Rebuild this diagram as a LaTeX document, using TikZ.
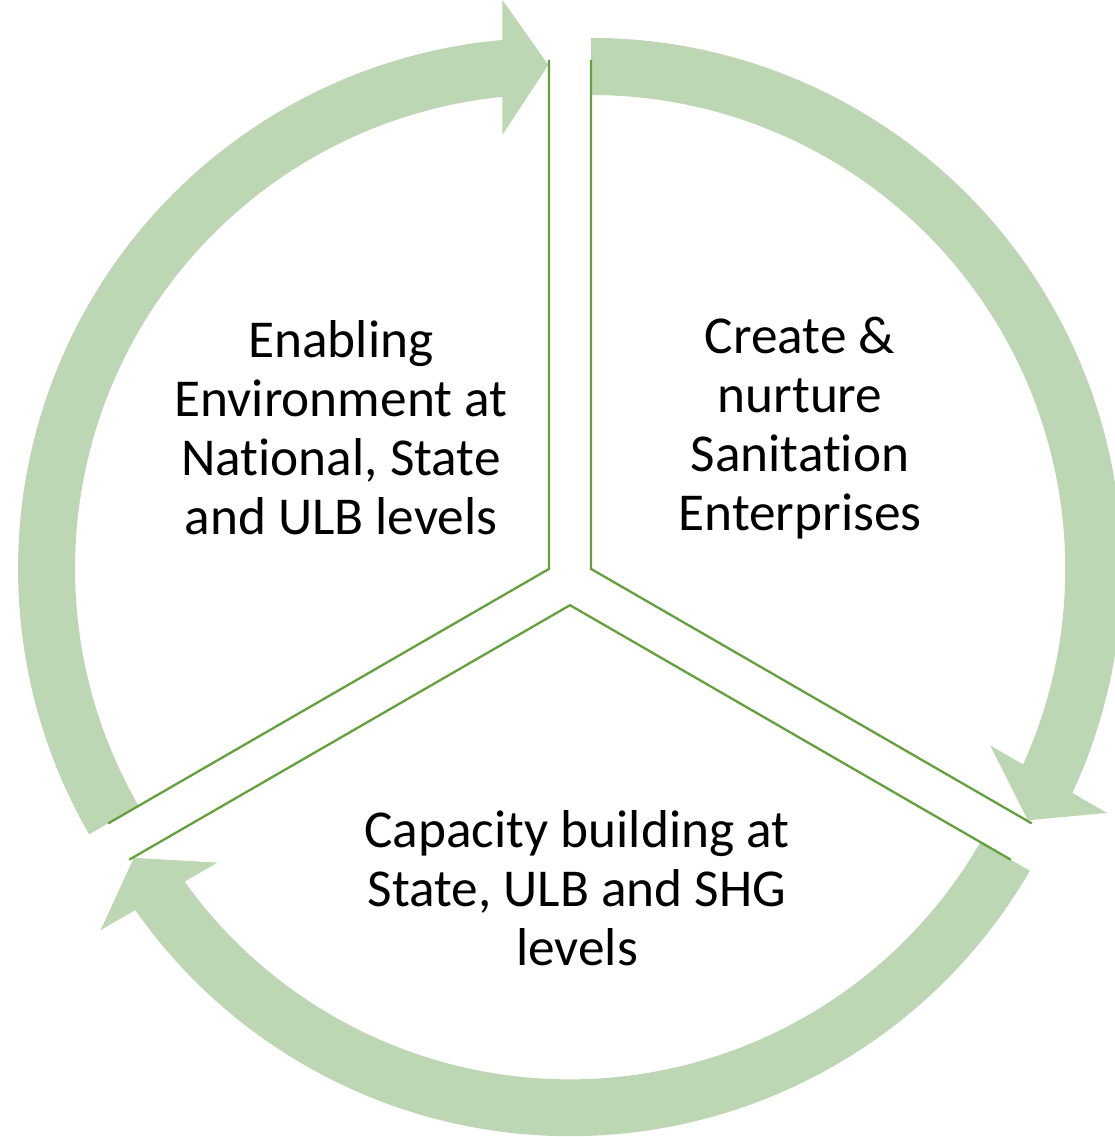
\documentclass[tikz,border=0pt]{standalone}
\usepackage{fontspec}
\setmainfont{Carlito}[RawFeature={-liga;-clig;-dlig;-calt}]
\definecolor{bandgreen}{RGB}{189,215,180}
\definecolor{edgegreen}{RGB}{100,160,60}
\tikzset{
  band/.style={fill=bandgreen, draw=none},
  wedgeedge/.style={draw=edgegreen, line width=2.3pt, line join=miter},
  label/.style={align=center, inner sep=0pt, font=\fontsize{53.3}{59}\selectfont}
}
\newcommand\cyclearrowpath{(210:531) arc[start angle=210, end angle=95.04, radius=531] -- (-46.7,569) -- (-0.7,504) -- (-46.7,434) -- (-46.7,472) arc[start angle=95.65, end angle=210, radius=474] -- cycle}
\begin{document}
\begin{tikzpicture}[x=1pt,y=1pt]
\useasboundingbox (0,0) rectangle (1115,1137);
% arrows
\begin{scope}[shift={(549.04,568.1)}]
  \fill[band] \cyclearrowpath;
\end{scope}
\begin{scope}[shift={(590.96,568.1)}, rotate=-120]
  \fill[band] \cyclearrowpath;
\end{scope}
\begin{scope}[shift={(570,531.8)}, rotate=120]
  \fill[band] \cyclearrowpath;
\end{scope}
% wedge edges
\begin{scope}[shift={(549.04,568.1)}]
  \draw[wedgeedge] (90:509) -- (0,0) -- (210:509);
\end{scope}
\begin{scope}[shift={(590.96,568.1)}, rotate=-120]
  \draw[wedgeedge] (90:509) -- (0,0) -- (210:509);
\end{scope}
\begin{scope}[shift={(570,531.8)}, rotate=120]
  \draw[wedgeedge] (90:509) -- (0,0) -- (210:509);
\end{scope}
% labels
\node[label] (enabling) at (341,709) {Enabling\\Environment at\\National, State\\and ULB levels};
\node[label] (create) at (800,709) {Create \&\\nurture\\Sanitation\\Enterprises};
\node[label] (capacity) at (577,249) {Capacity building at\\State, ULB and SHG\\levels};
\end{tikzpicture}
\end{document}
